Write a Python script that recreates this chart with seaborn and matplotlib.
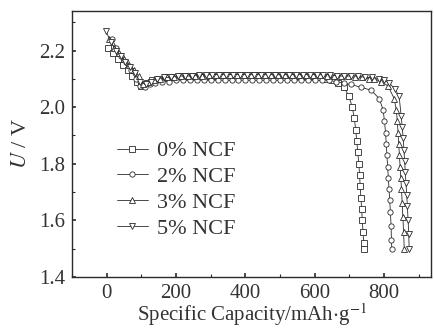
import numpy as np
import pandas as pd
import matplotlib
matplotlib.use("Agg")
import matplotlib.pyplot as plt
from matplotlib.ticker import MultipleLocator
import seaborn as sns

# -------------------------------------------
# DATA
# -------------------------------------------
labels = ["0% NCF", "2% NCF", "3% NCF", "5% NCF"]
markers = ["s", "o", "^", "v"]

x0 = [5, 18, 32, 46, 60, 74, 88, 100, 115, 130, 150, 170, 190, 210, 230, 250, 270, 290,
      310, 330, 350, 370, 390, 410, 430, 450, 470, 490, 510, 530, 550, 570, 590, 610,
      630, 650, 668, 684, 698, 708, 714, 718, 721, 724, 727, 729, 731, 733, 735, 737,
      739, 741, 742]
y0 = [2.21, 2.19, 2.17, 2.15, 2.13, 2.11, 2.09, 2.075, 2.085, 2.095, 2.10, 2.105, 2.105,
      2.11, 2.11, 2.11, 2.11, 2.11, 2.11, 2.115, 2.115, 2.115, 2.115, 2.115, 2.115,
      2.115, 2.115, 2.115, 2.115, 2.115, 2.11, 2.11, 2.11, 2.105, 2.10, 2.095, 2.085,
      2.07, 2.04, 2.00, 1.96, 1.92, 1.88, 1.84, 1.80, 1.76, 1.72, 1.68, 1.64, 1.60,
      1.56, 1.52, 1.50]

x2 = [15, 28, 42, 56, 70, 84, 96, 110, 125, 140, 160, 180, 200, 220, 240, 260, 280, 300,
      320, 340, 360, 380, 400, 420, 440, 460, 480, 500, 520, 540, 560, 580, 600, 620,
      640, 660, 684, 704, 733, 762, 786, 797, 801, 804, 806, 808, 810, 812, 814, 816,
      818, 820, 821, 822]
y2 = [2.24, 2.21, 2.18, 2.16, 2.13, 2.10, 2.075, 2.07, 2.08, 2.085, 2.09, 2.09, 2.095,
      2.095, 2.095, 2.095, 2.095, 2.095, 2.095, 2.095, 2.095, 2.095, 2.095, 2.095,
      2.095, 2.095, 2.095, 2.095, 2.095, 2.095, 2.095, 2.095, 2.095, 2.095, 2.095,
      2.09, 2.085, 2.08, 2.07, 2.06, 2.03, 1.99, 1.95, 1.91, 1.87, 1.83, 1.79, 1.75,
      1.71, 1.67, 1.63, 1.58, 1.53, 1.50]

x3 = [8, 22, 36, 50, 64, 78, 92, 106, 120, 135, 155, 175, 195, 215, 235, 255, 275, 295,
      315, 335, 355, 375, 395, 415, 435, 455, 475, 495, 515, 535, 555, 575, 595, 615,
      635, 655, 675, 695, 715, 735, 755, 772, 790, 811, 829, 835, 838, 840, 842, 844,
      846, 848, 850, 852, 854, 856, 858]
y3 = [2.24, 2.21, 2.19, 2.17, 2.15, 2.13, 2.11, 2.08, 2.09, 2.095, 2.10, 2.105, 2.105,
      2.11, 2.11, 2.11, 2.11, 2.115, 2.115, 2.115, 2.115, 2.115, 2.115, 2.115, 2.115,
      2.115, 2.115, 2.115, 2.115, 2.115, 2.115, 2.115, 2.115, 2.115, 2.11, 2.11, 2.11,
      2.11, 2.105, 2.105, 2.10, 2.10, 2.09, 2.075, 2.03, 1.99, 1.95, 1.91, 1.87, 1.83,
      1.79, 1.75, 1.71, 1.66, 1.61, 1.56, 1.50]

x5 = [-3, 12, 26, 40, 54, 68, 82, 96, 112, 128, 145, 165, 185, 205, 225, 245, 265, 285,
      305, 325, 345, 365, 385, 405, 425, 445, 465, 485, 505, 525, 545, 565, 585, 605,
      625, 645, 665, 685, 705, 725, 745, 765, 785, 800, 815, 830, 843, 849, 852, 855,
      857, 859, 861, 863, 865, 867, 869, 871, 872]
y5 = [2.27, 2.23, 2.20, 2.18, 2.16, 2.14, 2.12, 2.09, 2.08, 2.09, 2.10, 2.105, 2.105,
      2.11, 2.11, 2.11, 2.115, 2.115, 2.115, 2.115, 2.115, 2.115, 2.115, 2.115, 2.115,
      2.115, 2.115, 2.115, 2.115, 2.115, 2.115, 2.115, 2.115, 2.115, 2.115, 2.115,
      2.11, 2.11, 2.11, 2.11, 2.105, 2.105, 2.10, 2.095, 2.085, 2.065, 2.04, 1.97,
      1.93, 1.89, 1.85, 1.81, 1.77, 1.73, 1.69, 1.65, 1.60, 1.55, 1.50]

series = [(x0, y0), (x2, y2), (x3, y3), (x5, y5)]

# -------------------------------------------
# STYLE
# -------------------------------------------
sns.set_style("ticks")
plt.rcParams["font.family"] = ["Liberation Serif", "DejaVu Serif"]
plt.rcParams["mathtext.fontset"] = "stix"

ink = "#2a2a2a"
txt = "#333333"

fig = plt.figure(figsize=(4.34, 3.30), dpi=100)
ax = fig.add_axes([0.166, 0.161, 0.827, 0.806])

for (xs, ys), lab, mk in zip(series, labels, markers):
    df = pd.DataFrame({"x": xs, "y": ys})
    sns.lineplot(data=df, x="x", y="y", ax=ax, sort=False, color=ink, lw=0.6,
                 marker=mk, markersize=3.8, markerfacecolor="white",
                 markeredgecolor=ink, markeredgewidth=0.6, label=lab)

ax.set_xlim(-100, 935)
ax.set_ylim(1.4, 2.34)
ax.xaxis.set_major_locator(MultipleLocator(200))
ax.xaxis.set_minor_locator(MultipleLocator(100))
ax.yaxis.set_major_locator(MultipleLocator(0.2))
ax.yaxis.set_minor_locator(MultipleLocator(0.1))
ax.yaxis.set_major_formatter(plt.FormatStrFormatter("%.1f"))
ax.tick_params(which="both", direction="in", colors=ink, labelsize=15, labelcolor=txt)
ax.tick_params(which="major", length=3, width=1.2, pad=5)
ax.tick_params(which="minor", length=2, width=0.8)
for s in ax.spines.values():
    s.set_color(ink)
    s.set_linewidth(1.0)

ax.set_xlabel("Specific Capacity/mAh$\\cdot$g$^{-1}$", fontsize=15, color=txt, labelpad=-1)
ax.set_ylabel("$U$ / V", fontsize=16, color=txt, labelpad=6)

leg = ax.legend(loc="upper left", bbox_to_anchor=(0.1, 0.545), frameon=False,
                fontsize=16, handlelength=1.4, handletextpad=0.4, labelspacing=0.24,
                borderaxespad=0)
for t in leg.get_texts():
    t.set_color(txt)

fig.savefig("out.png", dpi=100)
